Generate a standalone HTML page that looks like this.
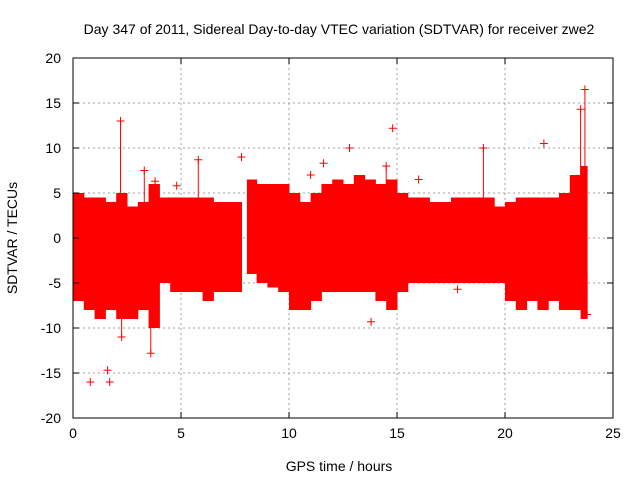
<!DOCTYPE html>
<html><head><meta charset="utf-8"><style>
body{margin:0;background:#fff;}
svg{display:block;font-family:"Liberation Sans",sans-serif;}
</style></head><body>
<svg id="chart" width="640" height="480">
<text x="339" y="34" font-size="14" text-anchor="middle">Day 347 of 2011, Sidereal Day-to-day VTEC variation (SDTVAR) for receiver zwe2</text>
<text x="339" y="471" font-size="14" text-anchor="middle">GPS time / hours</text>
<text transform="translate(17,238) rotate(-90)" font-size="14" text-anchor="middle">SDTVAR / TECUs</text>
<g id="grid"></g><g id="marks"></g><g id="axes"></g>
</svg>
<script>
const binStarts=[0,0.5,1,1.5,2,2.5,3,3.5,4,4.5,5,5.5,6,6.5,7,7.5,8,8.5,9,9.5,10,10.5,11,11.5,12,12.5,13,13.5,14,14.5,15,15.5,16,16.5,17,17.5,18,18.5,19,19.5,20,20.5,21,21.5,22,22.5,23,23.5];
const upperVals=[5,4.5,4.5,4,5,3.5,4,6,4.5,4.5,4.5,4.5,4.5,4,4,4,6.5,6,6,6,5,4,5,6,6.5,6,7,6.5,6,6.5,5,4.5,4.5,4,4,4.5,4.5,4.5,4.5,3.5,4,4.5,4.5,4.5,4.5,5,7,8];
const lowerVals=[-7,-8,-9,-8,-9,-9,-8,-10,-5,-6,-6,-6,-7,-6,-6,-6,-4,-5,-5.5,-6,-8,-8,-7,-6,-6,-6,-6,-6,-7,-8,-6,-5,-5,-5,-5,-5,-5,-5,-5,-5,-7,-8,-7,-8,-7,-8,-8,-9];
const outlierT=[0.8,1.6,1.7,2.2,3.6,7.8,11,11.6,12.8,14.8,14.5,16,13.8,17.8,19,21.8,23.7,23.5,3.3,3.8,5.8,4.8,2.25,23.8];
const outlierV=[-16,-14.7,-16,13,-12.8,9,7,8.3,10,12.2,8,6.5,-9.3,-5.7,10,10.5,16.5,14.3,7.5,6.3,8.7,5.8,-11,-8.5];
const outlierLinked=[0,0,0,1,1,0,0,0,0,0,1,0,0,0,1,0,1,1,1,1,1,0,1,1];
const xTicks=[0,5,10,15,20,25];
const yTicks=[-20,-15,-10,-5,0,5,10,15,20];
const X0=73,X1=613,Y0=418,Y1=58;
const sx=t=>X0+(t-0)/25*(X1-X0);
const sy=v=>Y0-(v+20)/40*(Y0-Y1);
const NS="http://www.w3.org/2000/svg";
function mk(tag,attrs,parent){const e=document.createElementNS(NS,tag);for(const k in attrs)e.setAttribute(k,attrs[k]);document.getElementById(parent).appendChild(e);return e;}
xTicks.forEach(t=>{
 if(t>0&&t<25){const g=mk('line',{x1:sx(t),x2:sx(t),y1:Y1,y2:Y0,stroke:'#a0a0a0','stroke-dasharray':'2,3'},'grid');
 
 }
 const tx=mk('text',{x:sx(t),y:Y0+20,'font-size':14,'text-anchor':'middle'},'axes');tx.textContent=t;
 
 
 mk('line',{x1:sx(t),x2:sx(t),y1:Y0,y2:Y0-6,stroke:'#000'},'axes');
 mk('line',{x1:sx(t),x2:sx(t),y1:Y1,y2:Y1+6,stroke:'#000'},'axes');
});
yTicks.forEach(v=>{
 if(v>-20&&v<20){const g=mk('line',{x1:X0,x2:X1,y1:sy(v),y2:sy(v),stroke:'#a0a0a0','stroke-dasharray':'2,3'},'grid');
 
 }
 const tx=mk('text',{x:X0-12,y:sy(v)+5,'font-size':14,'text-anchor':'end'},'axes');tx.textContent=v;
 
 
 mk('line',{x1:X0,x2:X0+6,y1:sy(v),y2:sy(v),stroke:'#000'},'axes');
 mk('line',{x1:X1,x2:X1-6,y1:sy(v),y2:sy(v),stroke:'#000'},'axes');
});
const fr=mk('rect',{x:X0,y:Y1,width:X1-X0,height:Y0-Y1,fill:'none',stroke:'#000'},'axes');


binStarts.forEach((t,i)=>{
 const end=Math.min(t+0.5,23.8);
 const s=(t===8)?8.05:t;
 const e=(t===7.5)?7.8:end;
 const r=mk('rect',{x:sx(s),y:sy(upperVals[i]),width:sx(e)-sx(s)+0.5,height:sy(lowerVals[i])-sy(upperVals[i]),fill:'#ff0000'},'marks');
 
 
});
outlierT.forEach((t,i)=>{
 const x=sx(t),y=sy(outlierV[i]);
 if(outlierLinked[i]){
  const l=mk('line',{x1:x,x2:x,y1:y,y2:sy(outlierV[i]>0?3:-4),stroke:'#ff0000','stroke-width':1},'marks');
  
  
 }
 const p=mk('path',{d:`M${x-4},${y}H${x+4}M${x},${y-4}V${y+4}`,stroke:'#ff0000','stroke-width':1},'marks');
 
 
});
</script>
</body></html>
